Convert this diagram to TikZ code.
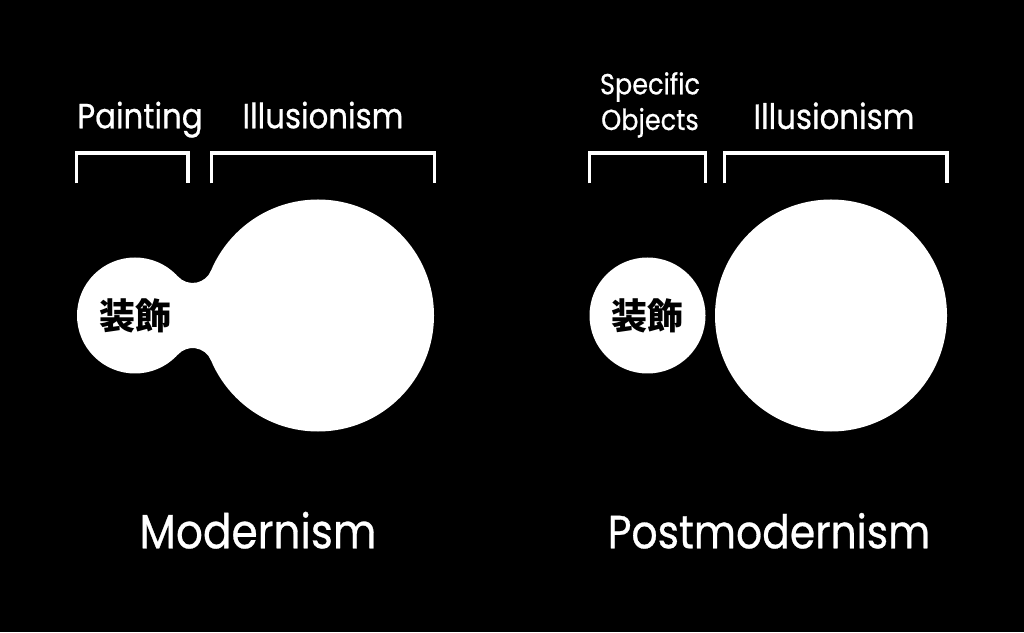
\documentclass[tikz,border=0pt]{standalone}
\usepackage{fontspec}
\setmainfont{Poppins}[FakeStretch=0.88,FakeBold=0.6]
\newfontfamily\jpfont{Noto Sans CJK JP}
\usetikzlibrary{calc}

\begin{document}
\begin{tikzpicture}[x=1pt,y=1pt,
    blob/.style={circle,fill=white,inner sep=0pt,font=\jpfont\bfseries\fontsize{36}{36}\selectfont},
    bracket/.style={draw=white,line width=3.5pt},
    toplabel/.style={text=white,anchor=base,font=\fontsize{35}{35}\selectfont},
    era/.style={text=white,anchor=base,font=\fontsize{48}{48}\selectfont}]

    \fill[black] (0,0) rectangle (1024,632);

    % Modernism
    \node[blob,minimum size=116pt] (orn1) at (135,316.5) {装飾};
    \node[blob,minimum size=232pt] (ill1) at (318,316.5) {};
    \fill[white] ($(orn1.center)+(42.3:58)$) arc[start angle=222.3,end angle=337.3,radius=19.9]
        -- ($(ill1.center)+(202.7:116)$) arc[start angle=22.7,end angle=137.7,radius=19.9] -- cycle;

    \draw[bracket] (76.5,448.7) |- (188,479) -- (188,448.7);
    \draw[bracket] (211.5,448.7) |- (434.5,479) -- (434.5,448.7);

    \node[toplabel] (paint) at (140,503.7) {Painting};
    \node[toplabel] (illus1) at (323,503.7) {Illusionism};
    \node[era] (mod) at (258,83.7) {Modernism};

    % Postmodernism
    \node[blob,minimum size=116pt] (orn2) at (647.5,316.5) {装飾};
    \node[blob,minimum size=232pt] (ill2) at (831,316.5) {};

    \draw[bracket] (589.5,448.7) |- (705.3,479) -- (705.3,448.7);
    \draw[bracket] (724.3,448.7) |- (947,479) -- (947,448.7);

    \node[toplabel,font=\fontsize{29}{29}\selectfont] (spec) at (650,537.7) {Specific};
    \node[toplabel,font=\fontsize{29}{29}\selectfont] (obj) at (650,502) {Objects};
    \node[toplabel] (illus2) at (834,503) {Illusionism};
    \node[era,font=\fontsize{46.5}{46.5}\selectfont] (postmod) at (769,83.7) {Postmodernism};
\end{tikzpicture}
\end{document}
